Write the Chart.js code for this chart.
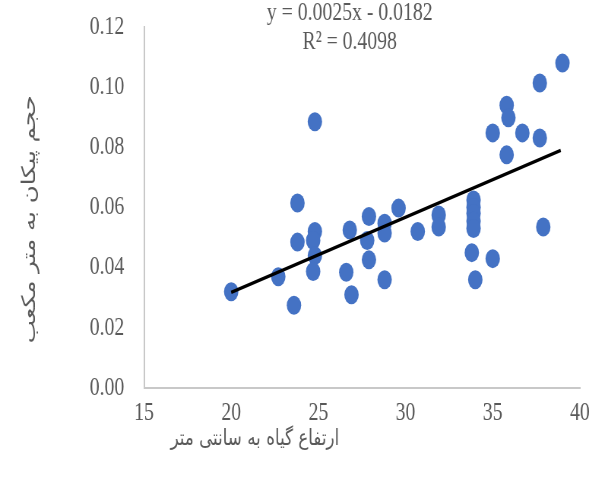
<!DOCTYPE html>
<html>
<head>
<meta charset="utf-8">
<script src="https://cdn.jsdelivr.net/npm/chart.js@4/dist/chart.umd.min.js"></script>
<style>
  html, body { margin: 0; padding: 0; background: #ffffff; overflow: hidden; }
  #wrap { width: 597px; height: 479px; overflow: hidden; position: relative; }
  #c { position: absolute; left: 0; top: 0; transform: scaleX(0.76); transform-origin: 0 0; }
</style>
</head>
<body>
<div id="wrap"><canvas id="c" width="786" height="479"></canvas></div>
<script>
// ---- data ----
const plantHeightCm = [20, 22.7, 23.6, 23.8, 23.8, 24.8, 24.8, 24.7, 24.8, 24.7,
  26.6, 26.8, 26.9, 27.9, 27.8, 27.9, 28.8, 28.8, 28.8, 29.6,
  30.7, 31.9, 31.9, 33.9, 33.9, 33.9, 33.9, 33.9, 33.8, 34.0,
  35.0, 35.0, 35.8, 35.9, 35.8, 36.7, 37.7, 37.7, 37.9, 39.0];
const spikeVolumeM3 = [0.032, 0.037, 0.0275, 0.0615, 0.0485, 0.0885, 0.052, 0.049, 0.044, 0.0387,
  0.0385, 0.0525, 0.031, 0.057, 0.049, 0.0426, 0.0548, 0.0515, 0.036, 0.0598,
  0.052, 0.0575, 0.0535, 0.0625, 0.060, 0.058, 0.0555, 0.053, 0.045, 0.036,
  0.043, 0.0848, 0.094, 0.0898, 0.0775, 0.0848, 0.0831, 0.1014, 0.0535, 0.108];
const trendX = [20, 38.9];
const trendY = [0.0318, 0.0790];
const xTicks = [15, 20, 25, 30, 35, 40];
const yTicks = [0.00, 0.02, 0.04, 0.06, 0.08, 0.10, 0.12];
const equationLines = ['y = 0.0025x - 0.0182', 'R\u00B2 = 0.4098'];
const xTitle = 'ارتفاع گیاه به سانتی متر';
const yTitle = 'حجم پیکان به متر مکعب';

const points = plantHeightCm.map((x, i) => ({ x: x, y: spikeVolumeM3[i] }));
const trend = trendX.map((x, i) => ({ x: x, y: trendY[i] }));

const textGrey = '#595959';
const serif = 'Liberation Serif';

const equationPlugin = {
  id: 'equation',
  afterDatasetsDraw(chart) {
    const { ctx, chartArea } = chart;
    ctx.save();
    ctx.font = '26px "' + serif + '"';
    ctx.fillStyle = textGrey;
    ctx.textAlign = 'center';
    ctx.textBaseline = 'middle';
    const cx = chartArea.left + 0.472 * (chartArea.right - chartArea.left);
    ctx.fillText(equationLines[0], cx, 13);
    ctx.fillText(equationLines[1], cx, 42);
    ctx.restore();
  }
};

new Chart(document.getElementById('c'), {
  type: 'scatter',
  data: {
    datasets: [
      {
        label: 'trend',
        data: trend,
        showLine: true,
        borderColor: '#000000',
        borderWidth: 3.5,
        pointRadius: 0,
        fill: false
      },
      {
        label: 'data',
        data: points,
        backgroundColor: '#4472C4',
        borderWidth: 0,
        pointRadius: 9.5,
        pointHoverRadius: 9.5
      }
    ]
  },
  options: {
    responsive: false,
    animation: false,
    devicePixelRatio: 1,
    layout: { padding: { top: 27, right: 14, left: 0, bottom: 0 } },
    plugins: { legend: { display: false }, tooltip: { enabled: false } },
    scales: {
      x: {
        type: 'linear',
        min: 15, max: 40,
        afterBuildTicks(scale) { scale.ticks = xTicks.map(v => ({ value: v })); },
        afterFit(scale) { scale.height = 91; },
        grid: { display: false, drawTicks: false },
        border: { display: true, color: '#c8c8c8', width: 2 },
        ticks: { color: textGrey, font: { family: serif, size: 26 }, padding: 10, maxRotation: 0 },
        title: { display: true, text: '\u00A0\u00A0\u00A0\u00A0\u00A0' + xTitle, align: 'start', color: textGrey,
                 font: { family: 'DejaVu Sans', size: 22 }, padding: { top: 0, bottom: 27 } }
      },
      y: {
        type: 'linear',
        min: 0, max: 0.12,
        afterBuildTicks(scale) { scale.ticks = yTicks.map(v => ({ value: v })); },
        afterFit(scale) { scale.width = 189.5; scale.paddingTop = 0; scale.paddingBottom = 0; },
        grid: { display: false, drawTicks: false },
        border: { display: true, color: '#c8c8c8', width: 2 },
        ticks: { color: textGrey, font: { family: serif, size: 26 }, padding: 26,
                 callback: v => Number(v).toFixed(2) },
        title: { display: true, text: yTitle + '\u00A0\u00A0\u00A0', color: textGrey,
                 font: { family: 'DejaVu Sans', size: 24.5 }, padding: { top: 25, bottom: 0 } }
      }
    }
  },
  plugins: [equationPlugin]
});
</script>
</body>
</html>
